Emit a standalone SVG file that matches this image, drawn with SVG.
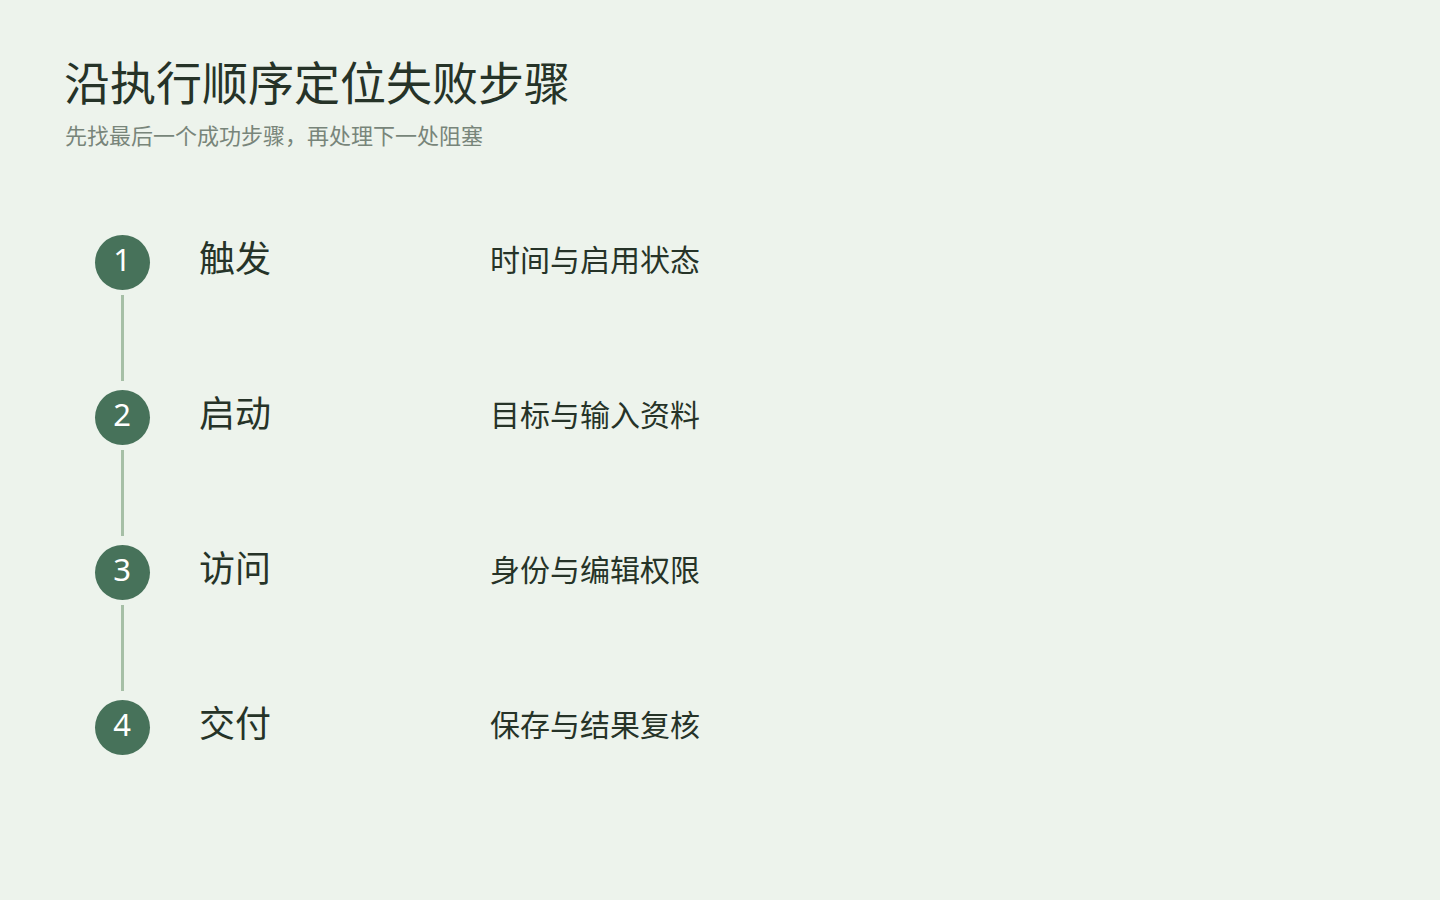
<svg xmlns="http://www.w3.org/2000/svg" width="1440" height="900" viewBox="0 0 1440 900">
<style>
.bg{fill:#edf3ec}
.title{font-family:"Noto Sans CJK SC","Noto Sans",sans-serif;font-size:46px;fill:#263328}
.sub{font-family:"Noto Sans CJK SC","Noto Sans",sans-serif;font-size:22px;fill:#78857a}
.dot{fill:#47725a}
.num{font-family:"Noto Sans","Liberation Sans",sans-serif;font-size:31px;fill:#ffffff;text-anchor:middle}
.label{font-family:"Noto Sans CJK SC","Noto Sans",sans-serif;font-size:36px;fill:#263328}
.desc{font-family:"Noto Sans CJK SC","Noto Sans",sans-serif;font-size:30px;fill:#263328;text-anchor:end}
.conn{stroke:#a6bfa6;stroke-width:3;fill:none}
</style>
<rect class="bg" x="0" y="0" width="1440" height="900"/>
<text class="title" x="64" y="100">沿执行顺序定位失败步骤</text>
<text class="sub" x="65" y="144">先找最后一个成功步骤，再处理下一处阻塞</text>
<g id="connectors">
<line class="conn" x1="122.5" y1="295" x2="122.5" y2="381"/>
<line class="conn" x1="122.5" y1="450" x2="122.5" y2="536"/>
<line class="conn" x1="122.5" y1="605" x2="122.5" y2="691"/>
</g>
<g id="step1">
<circle class="dot" cx="122.5" cy="262.5" r="27.5"/>
<text class="num" x="122" y="271">1</text>
<text class="label" x="199" y="272">触发</text>
<text class="desc" x="700" y="271">时间与启用状态</text>
</g>
<g id="step2">
<circle class="dot" cx="122.5" cy="417.5" r="27.5"/>
<text class="num" x="122" y="426">2</text>
<text class="label" x="199" y="427">启动</text>
<text class="desc" x="700" y="426">目标与输入资料</text>
</g>
<g id="step3">
<circle class="dot" cx="122.5" cy="572.5" r="27.5"/>
<text class="num" x="122" y="581">3</text>
<text class="label" x="199" y="582">访问</text>
<text class="desc" x="700" y="581">身份与编辑权限</text>
</g>
<g id="step4">
<circle class="dot" cx="122.5" cy="727.5" r="27.5"/>
<text class="num" x="122" y="736">4</text>
<text class="label" x="199" y="737">交付</text>
<text class="desc" x="700" y="736">保存与结果复核</text>
</g>
</svg>
